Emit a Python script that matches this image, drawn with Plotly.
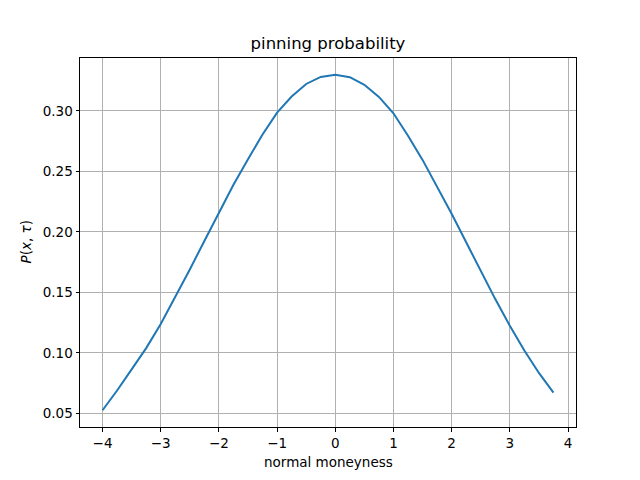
import plotly.graph_objects as go

moneyness = [-4.00, -3.75, -3.50, -3.25, -3.00, -2.75, -2.50, -2.25,
             -2.00, -1.75, -1.50, -1.25, -1.00, -0.75, -0.50, -0.25,
             0.00, 0.25, 0.50, 0.75, 1.00, 1.25, 1.50, 1.75,
             2.00, 2.25, 2.50, 2.75, 3.00, 3.25, 3.50, 3.75]
probability = [0.0527, 0.0690, 0.0865, 0.1040, 0.1240, 0.1460, 0.1690, 0.1925,
               0.2160, 0.2390, 0.2600, 0.2805, 0.2985, 0.3118, 0.3222, 0.3280,
               0.3298, 0.3278, 0.3215, 0.3115, 0.2980, 0.2795, 0.2595, 0.2377,
               0.2150, 0.1914, 0.1675, 0.1445, 0.1225, 0.1020, 0.0835, 0.0673]
x_ticks = [-4, -3, -2, -1, 0, 1, 2, 3, 4]
y_ticks = [0.05, 0.10, 0.15, 0.20, 0.25, 0.30]

font = "DejaVu Sans"
fig = go.Figure()
fig.add_trace(go.Scatter(x=moneyness, y=probability, mode="lines",
                         line=dict(color="#1f77b4", width=2), showlegend=False))

xmin, xmax = min(moneyness), max(moneyness)
ymin, ymax = min(probability), max(probability)
xp = (xmax - xmin) * 0.05
yp = (ymax - ymin) * 0.05

axis_common = dict(showline=True, linecolor="black", linewidth=1, mirror=True,
                   ticks="outside", ticklen=3.5, tickwidth=1, tickcolor="black",
                   showgrid=True, gridcolor="#b0b0b0", gridwidth=0.8,
                   zeroline=False, tickfont=dict(family=font, size=13.5, color="black"))

# page body has an 8px margin; compensate so plot area lands at x 80..576, y 58..427
fig.update_layout(
    width=640, height=480,
    margin=dict(l=72, r=72, t=50, b=61),
    paper_bgcolor="white", plot_bgcolor="white",
    title=dict(text="pinning probability", x=0.5, xref="paper", xanchor="center",
               y=1 - 35 / 480, yref="container", yanchor="middle",
               font=dict(family=font, size=16.5, color="black")),
    xaxis=dict(range=[xmin - xp, xmax + xp], tickvals=x_ticks,
               ticktext=[str(t).replace("-", "\u2212") for t in x_ticks], **axis_common),
    yaxis=dict(range=[ymin - yp, ymax + yp], tickvals=y_ticks,
               ticktext=[f"{t:.2f}" for t in y_ticks], **axis_common),
    annotations=[
        dict(text="normal moneyness", xref="paper", yref="paper", x=0.5, y=-0.094,
             xanchor="center", yanchor="middle", showarrow=False,
             font=dict(family=font, size=13.5, color="black")),
        dict(text="<i>P</i>(<i>x</i>, <i>τ</i>)", xref="paper", yref="paper",
             x=(25 - 80) / 496, y=0.5, xanchor="center", yanchor="middle",
             textangle=-90, showarrow=False,
             font=dict(family=font, size=13.5, color="black")),
    ],
)

fig.write_html("out.html")
